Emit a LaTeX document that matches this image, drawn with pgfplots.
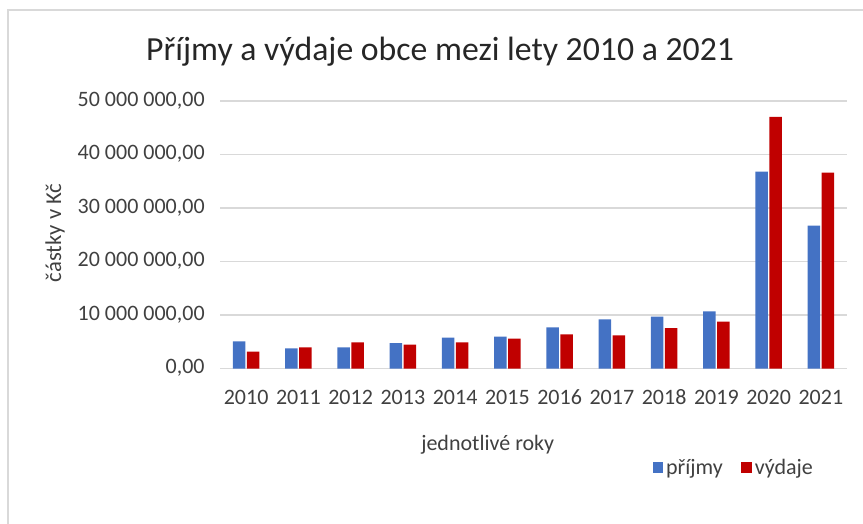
\documentclass[border=0pt]{standalone}
\usepackage{fontspec}
\setmainfont{Carlito}
\usepackage{pgfplots}
\pgfplotsset{compat=1.18}
\definecolor{prijmy}{HTML}{4472C4}
\definecolor{vydaje}{HTML}{C00000}
\definecolor{gridc}{HTML}{D9D9D9}
\definecolor{txt}{HTML}{404040}

\begin{document}
\begin{tikzpicture}
\path[use as bounding box] (0,0) rectangle (647.25pt,-393pt);
\draw[gridc, line width=1.1pt] (6pt,-393pt) -- (6pt,-7.5pt) -- (647.25pt,-7.5pt);
\begin{axis}[
	at={(165pt,-276.5pt)}, anchor=south west,
	scale only axis, width=470.25pt, height=200.8pt,
	ybar=1.2pt, bar width=9.4pt,
	xmin=-0.5, xmax=11.5, ymin=0, ymax=50000000,
	xtick=data,
	xticklabels={2010,2011,2012,2013,2014,2015,2016,2017,2018,2019,2020,2021},
	ytick={0,10000000,20000000,30000000,40000000,50000000},
	scaled y ticks=false,
	yticklabel style={/pgf/number format/fixed, /pgf/number format/fixed zerofill,
		/pgf/number format/precision=2,
		/pgf/number format/1000 sep={\ }, /pgf/number format/set decimal separator={,},
		/pgf/number format/assume math mode=true, xshift=-8pt},
	major tick length=0pt,
	axis line style={draw=none},
	ymajorgrids, grid style={gridc, line width=1.1pt},
	tick label style={font=\fontsize{16.5}{19}\selectfont, text=txt},
	typeset ticklabels with strut,
	xticklabel style={yshift=-10pt},
	title={Příjmy a výdaje obce mezi lety 2010 a 2021},
	title style={at={(rel axis cs:0.351,1.155)}, anchor=center,
		font=\fontsize{25.3}{29}\selectfont, text=black!85},
	xlabel={jednotlivé roky},
	xlabel style={at={(rel axis cs:0.427,-0.285)}, anchor=center,
		font=\fontsize{16.5}{19}\selectfont, text=txt},
	ylabel={částky v Kč},
	ylabel style={at={(rel axis cs:-0.263,0.507)}, anchor=center,
		font=\fontsize{17}{19}\selectfont, text=txt},
	legend style={at={(rel axis cs:0.82,-0.37)}, anchor=center, draw=none,
		font=\fontsize{16.5}{19}\selectfont, text=txt,
		/tikz/every even column/.append style={column sep=12pt}},
	legend columns=2,
	legend image code/.code={\fill[#1] (0pt,-4pt) rectangle (8pt,4pt);},
]
\addplot[fill=prijmy, draw=none] coordinates {
	(0,5100000) (1,3800000) (2,4000000) (3,4750000) (4,5800000) (5,6000000)
	(6,7700000) (7,9200000) (8,9700000) (9,10700000) (10,36800000) (11,26700000)
};
\addlegendentry{příjmy}
\addplot[fill=vydaje, draw=none] coordinates {
	(0,3200000) (1,4000000) (2,4900000) (3,4500000) (4,4900000) (5,5600000)
	(6,6400000) (7,6200000) (8,7550000) (9,8800000) (10,47000000) (11,36600000)
};
\addlegendentry{výdaje}
\end{axis}
\end{tikzpicture}
\end{document}
